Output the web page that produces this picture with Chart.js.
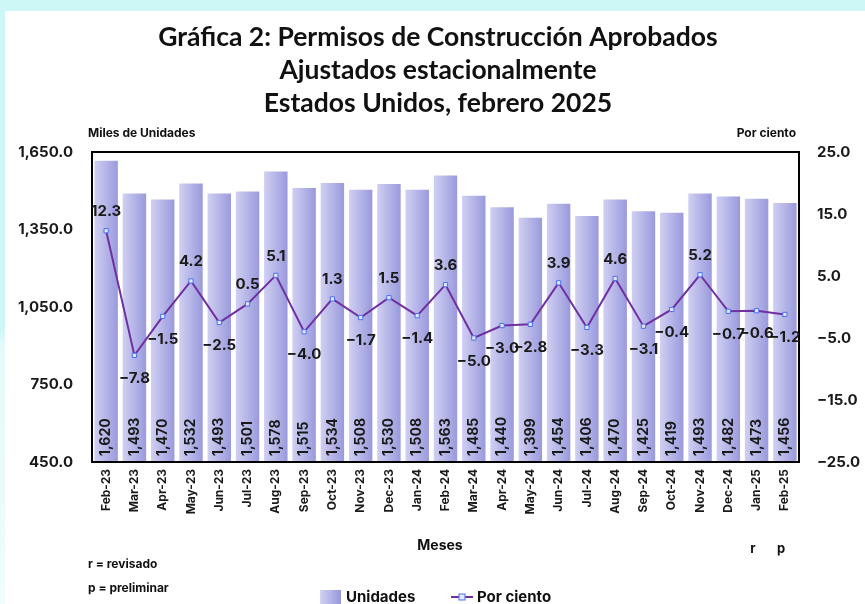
<!DOCTYPE html>
<html>
<head>
<meta charset="utf-8">
<script src="https://cdn.jsdelivr.net/npm/chart.js@4.4.1/dist/chart.umd.min.js"></script>
<style>
html, body { margin: 0; padding: 0; background: #fff; }
#wrap { position: relative; width: 865px; height: 604px; overflow: hidden; }
#franja { position: absolute; left: 0; top: 0; width: 865px; height: 11px; background: #cdf6f6; }
#lado { position: absolute; left: 0; top: 0; width: 5px; height: 604px;
        background: linear-gradient(#cdf6f6 0, #cdf6f6 330px, #e4fafa 345px, #eefcfc 100%); }
canvas { position: absolute; left: 0; top: 0; }
</style>
</head>
<body>
<div id="wrap">
  <div id="franja"></div>
  <div id="lado"></div>
  <canvas id="grafica" width="865" height="604"></canvas>
</div>
<script>
// Datos de la gráfica
const meses = ['Feb-23', 'Mar-23', 'Apr-23', 'May-23', 'Jun-23', 'Jul-23', 'Aug-23', 'Sep-23', 'Oct-23',
    'Nov-23', 'Dec-23', 'Jan-24', 'Feb-24', 'Mar-24', 'Apr-24', 'May-24', 'Jun-24', 'Jul-24', 'Aug-24',
    'Sep-24', 'Oct-24', 'Nov-24', 'Dec-24', 'Jan-25', 'Feb-25'];
const unidades = [1620, 1493, 1470, 1532, 1493, 1501, 1578, 1515, 1534, 1508, 1530, 1508, 1563,
    1485, 1440, 1399, 1454, 1406, 1470, 1425, 1419, 1493, 1482, 1473, 1456];
const porCiento = [12.3, -7.8, -1.5, 4.2, -2.5, 0.5, 5.1, -4.0, 1.3, -1.7, 1.5, -1.4, 3.6,
    -5.0, -3.0, -2.8, 3.9, -3.3, 4.6, -3.1, -0.4, 5.2, -0.7, -0.6, -1.2];
const ticksUnidades = [450, 750, 1050, 1350, 1650];
const ticksPorCiento = [-25, -15, -5, 5, 15, 25];
const titulo = ['Gráfica 2: Permisos de Construcción Aprobados', 'Ajustados estacionalmente', 'Estados Unidos, febrero 2025'];

const FUENTE = 'Inter, "Noto Sans", sans-serif';
const MORADO = '#7030a0';

function fmt1(v) {
    return v.toLocaleString('en-US', { minimumFractionDigits: 1, maximumFractionDigits: 1 });
}

// Degradado horizontal para cada barra
function degradado(c, x0, x1) {
    const g = c.createLinearGradient(x0, 0, x1, 0);
    g.addColorStop(0, '#d2d2f3');
    g.addColorStop(1, '#9797dc');
    return g;
}

function colorBarra(context) {
    const chart = context.chart;
    const x = chart.scales.x;
    if (!x || !chart.chartArea) return '#b4b4e8';
    const centro = x.getPixelForValue(context.dataIndex);
    const ancho = x.width / meses.length * 0.9;
    return degradado(chart.ctx, centro - ancho / 2, centro + ancho / 2);
}

const extras = {
    id: 'extras',
    afterDatasetsDraw(chart) {
        const c = chart.ctx;
        const area = chart.chartArea;
        const x = chart.scales.x;
        const y1 = chart.scales.y1;

        // marco del área
        c.save();
        c.strokeStyle = '#000';
        c.lineWidth = 2;
        c.strokeRect(area.left, area.top, area.right - area.left, area.bottom - area.top);
        c.restore();

        // etiquetas de las barras (verticales)
        c.save();
        c.fillStyle = '#1a1a1a';
        c.font = 'bold 14px ' + FUENTE;
        c.textAlign = 'left';
        c.textBaseline = 'middle';
        unidades.forEach((v, i) => {
            const px = x.getPixelForValue(i);
            c.save();
            c.translate(px, area.bottom - 6);
            c.rotate(-Math.PI / 2);
            c.fillText(v.toLocaleString('en-US'), 0, 0);
            c.restore();
        });
        c.restore();

        // etiquetas de la línea
        c.save();
        c.fillStyle = '#1a1a1a';
        c.font = 'bold 15px ' + FUENTE;
        c.textAlign = 'center';
        c.textBaseline = 'middle';
        porCiento.forEach((v, i) => {
            const px = x.getPixelForValue(i);
            const py = y1.getPixelForValue(v);
            const dy = v >= 0 ? -19 : 23;
            c.fillText(fmt1(v).replace('-', '−'), px, py + dy);
        });
        c.restore();
    },
    afterDraw(chart) {
        const c = chart.ctx;
        c.save();
        // título
        c.fillStyle = '#111';
        c.font = 'bold 26.5px Lato, sans-serif';
        c.textAlign = 'center';
        c.textBaseline = 'middle';
        titulo.forEach((t, i) => c.fillText(t, 438, 37 + i * 33));

        // títulos de ejes
        c.font = 'bold 12px ' + FUENTE;
        c.textAlign = 'left';
        c.fillText('Miles de Unidades', 88, 133);
        c.textAlign = 'right';
        c.fillText('Por ciento', 796, 133);

        c.font = 'bold 14px ' + FUENTE;
        c.textAlign = 'center';
        c.fillText('Meses', 440, 546);
        c.font = 'bold 13px ' + FUENTE;
        c.fillText('r', 753, 549);
        c.fillText('p', 781, 549);

        // notas
        c.textAlign = 'left';
        c.font = 'bold 12px ' + FUENTE;
        c.fillText('r = revisado', 88, 564);
        c.fillText('p = preliminar', 88, 588);

        // leyenda
        c.fillStyle = degradado(c, 320, 341);
        c.fillRect(320, 590, 21, 14);
        c.fillStyle = '#111';
        c.font = 'bold 15px ' + FUENTE;
        c.fillText('Unidades', 346, 597);
        c.strokeStyle = MORADO;
        c.lineWidth = 2;
        c.beginPath();
        c.moveTo(451, 597);
        c.lineTo(473, 597);
        c.stroke();
        c.fillStyle = '#dfe8ff';
        c.strokeStyle = '#4d6ff0';
        c.lineWidth = 1;
        c.fillRect(459, 594, 6, 6);
        c.strokeRect(459, 594, 6, 6);
        c.fillStyle = '#111';
        c.fillText('Por ciento', 477, 597);
        c.restore();
    }
};

new Chart(document.getElementById('grafica'), {
    data: {
        labels: meses,
        datasets: [
            {
                type: 'line',
                label: 'Por ciento',
                data: porCiento,
                yAxisID: 'y1',
                borderColor: MORADO,
                borderWidth: 2,
                pointStyle: 'rect',
                pointRadius: 3,
                pointBackgroundColor: '#dfe8ff',
                pointBorderColor: '#4d6ff0',
                pointBorderWidth: 1,
                order: 1,
            },
            {
                type: 'bar',
                label: 'Unidades',
                data: unidades,
                yAxisID: 'y',
                backgroundColor: colorBarra,
                borderColor: 'rgba(255,255,255,0.85)',
                borderWidth: 1,
                barPercentage: 0.9,
                categoryPercentage: 1.0,
                order: 2,
            },
        ],
    },
    options: {
        responsive: false,
        animation: false,
        layout: { padding: { top: 152, bottom: 0, left: 0, right: 0 } },
        plugins: {
            legend: { display: false },
            title: { display: false },
            tooltip: { enabled: false },
        },
        scales: {
            x: {
                grid: { display: false, drawTicks: false },
                border: { display: false },
                afterFit: (s) => { s.height = 142; },
                ticks: {
                    color: '#1a1a1a',
                    font: { family: FUENTE, size: 12, weight: 'bold' },
                    minRotation: 90,
                    maxRotation: 90,
                    padding: 7,
                    autoSkip: false,
                },
            },
            y: {
                position: 'left',
                min: 450,
                max: 1650,
                afterFit: (s) => { s.width = 92; },
                afterBuildTicks: (s) => { s.ticks = ticksUnidades.map(v => ({ value: v })); },
                grid: { display: false, drawTicks: false },
                border: { display: false },
                ticks: {
                    color: '#1a1a1a',
                    font: { family: FUENTE, size: 15, weight: 'bold' },
                    padding: 19,
                    callback: (v) => fmt1(v),
                },
            },
            y1: {
                position: 'right',
                min: -25,
                max: 25,
                afterFit: (s) => { s.width = 66; },
                afterBuildTicks: (s) => { s.ticks = ticksPorCiento.map(v => ({ value: v })); },
                grid: { display: false, drawTicks: false },
                border: { display: false },
                ticks: {
                    color: '#1a1a1a',
                    font: { family: FUENTE, size: 15, weight: 'bold' },
                    padding: 18,
                    callback: (v) => fmt1(v).replace('-', '−'),
                },
            },
        },
    },
    plugins: [extras],
});
</script>
</body>
</html>
